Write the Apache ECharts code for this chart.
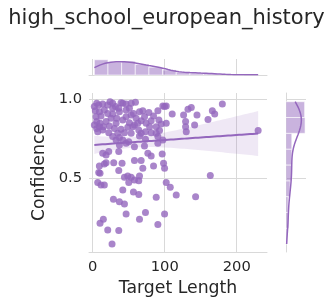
<!DOCTYPE html>
<html><head><meta charset="utf-8">
<script src="https://cdn.jsdelivr.net/npm/echarts@6/dist/echarts.min.js"></script>
<style>html,body{margin:0;padding:0;background:#fff}#c{width:333px;height:305px}</style>
</head><body><div id="c"></div>
<script>
const chartTitle = 'high_school_european_history';
const xName = 'Target Length';
const yName = 'Confidence';
const xTicks = [0, 100, 200];
const yTicks = [0.5, 1.0];

const targetLength = [
  5.6, 13.9, 24.1, 39.4, 41.8, 59.4, 31.6, 36.2, 51.0, 3.7,
  9.3, 16.2, 20.9, 27.8, 37.1, 46.4, 56.6, 65.0, 69.6, 78.0,
  90.5, 97.4, 102.1, 99.8, 110.4, 126.2, 132.3, 136.9, 144.8, 160.1,
  166.1, 169.4, 180.0, 229.7, 5.6, 10.2, 18.6, 25.5, 32.5, 41.8,
  51.0, 58.0, 67.3, 74.2, 81.2, 88.2, 102.1, 129.0, 141.5, 7.0,
  13.9, 22.3, 30.2, 39.4, 48.7, 55.7, 64.0, 73.3, 81.2, 92.8,
  129.0, 129.9, 32.5, 41.8, 50.1, 37.1, 46.4, 65.0, 73.3, 90.5,
  97.4, 90.5, 36.2, 58.0, 71.9, 13.9, 18.6, 22.3, 76.6, 81.2,
  96.5, 9.3, 16.2, 18.6, 29.2, 40.8, 36.2, 58.0, 67.3, 69.6,
  84.5, 98.4, 99.8, 8.4, 10.2, 44.1, 48.7, 53.4, 58.0, 65.0,
  64.0, 50.1, 163.3, 7.0, 11.6, 16.2, 41.8, 56.6, 64.0, 88.2,
  102.1, 107.7, 116.0, 142.9, 28.8, 37.1, 44.1, 46.4, 73.3, 65.0,
  90.5, 99.8, 14.8, 10.2, 20.9, 36.2, 26.9,
  2.3, 8.4, 11.6, 4.6, 14.8, 23.2, 27.8, 33.4, 46.4, 53.4,
  60.3, 62.6, 72.0, 79.0, 84.5, 91.9, 95.1, 20.9, 27.8, 46.4,
  53.4, 9.3, 2.3, 34.8, 44.1, 53.4, 37.1, 27.8, 67.3, 88.2,
  5.6
];
const confidence = [
  0.975, 0.970, 0.985, 0.979, 0.975, 0.981, 0.954, 0.943, 0.943, 0.928,
  0.922, 0.932, 0.911, 0.907, 0.922, 0.932, 0.911, 0.922, 0.928, 0.916,
  0.928, 0.958, 0.958, 0.954, 0.907, 0.901, 0.937, 0.949, 0.901, 0.873,
  0.928, 0.907, 0.970, 0.802, 0.859, 0.848, 0.859, 0.880, 0.848, 0.869,
  0.852, 0.838, 0.865, 0.848, 0.865, 0.827, 0.848, 0.859, 0.838, 0.795,
  0.806, 0.789, 0.816, 0.810, 0.823, 0.827, 0.806, 0.795, 0.789, 0.802,
  0.827, 0.795, 0.743, 0.743, 0.732, 0.711, 0.722, 0.768, 0.747, 0.764,
  0.743, 0.722, 0.669, 0.700, 0.705, 0.658, 0.648, 0.669, 0.658, 0.641,
  0.654, 0.578, 0.591, 0.599, 0.599, 0.595, 0.549, 0.612, 0.612, 0.563,
  0.578, 0.595, 0.563, 0.536, 0.532, 0.506, 0.515, 0.506, 0.489, 0.515,
  0.485, 0.473, 0.517, 0.473, 0.458, 0.458, 0.426, 0.414, 0.397, 0.380,
  0.473, 0.443, 0.395, 0.384, 0.367, 0.352, 0.338, 0.274, 0.283, 0.241,
  0.207, 0.274, 0.241, 0.215, 0.173, 0.169, 0.084,
  0.954, 0.964, 0.895, 0.890, 0.827, 0.831, 0.943, 0.880, 0.890, 0.901,
  0.880, 0.848, 0.890, 0.827, 0.895, 0.869, 0.844, 0.964, 0.975, 0.970,
  0.975, 0.827, 0.838, 0.785, 0.789, 0.785, 0.759, 0.764, 0.785, 0.785,
  0.816
];

const PURPLE = '#9467bd';
const TEXT = '#262626';
const GRID = '#d9d9d9';
const FONT = 'DejaVu Sans';

const n = Math.min(targetLength.length, confidence.length);
const xs = targetLength.slice(0, n), ys = confidence.slice(0, n);
const points = xs.map((x, i) => [x, ys[i]]);

function mean(a) { return a.reduce((s, v) => s + v, 0) / a.length; }
function hist(vals, nb) {
  const lo = Math.min(...vals), hi = Math.max(...vals), w = (hi - lo) / nb;
  const counts = new Array(nb).fill(0);
  vals.forEach(v => { let i = Math.floor((v - lo) / w); if (i >= nb) i = nb - 1; counts[i]++; });
  return counts.map((c, i) => [lo + i * w, lo + (i + 1) * w, c]);
}
function kde(vals, lo, hi, scale, m) {
  const mu = mean(vals);
  const sd = Math.sqrt(vals.reduce((s, v) => s + (v - mu) * (v - mu), 0) / (vals.length - 1));
  const h = sd * Math.pow(vals.length, -0.2);
  const out = [];
  for (let k = 0; k <= m; k++) {
    const x = lo + (hi - lo) * k / m;
    let d = 0;
    vals.forEach(v => { const z = (x - v) / h; d += Math.exp(-0.5 * z * z); });
    d /= vals.length * h * Math.sqrt(2 * Math.PI);
    out.push([x, d * scale]);
  }
  return out;
}

// regression + CI
const xb = mean(xs), yb = mean(ys);
let sxx = 0, sxy = 0;
xs.forEach((x, i) => { sxx += (x - xb) ** 2; sxy += (x - xb) * (ys[i] - yb); });
const slope = sxy / sxx, icpt = yb - slope * xb;
let sse = 0; xs.forEach((x, i) => { sse += (ys[i] - icpt - slope * x) ** 2; });
const s = Math.sqrt(sse / (n - 2)), tval = 1.975;
const xmin = Math.min(...xs), xmax = Math.max(...xs);
const regLine = [], bandUp = [], bandLo = [];
for (let k = 0; k <= 60; k++) {
  const x = xmin + (xmax - xmin) * k / 60;
  const yh = icpt + slope * x;
  const se = s * Math.sqrt(1 / n + (x - xb) ** 2 / sxx);
  regLine.push([x, yh]); bandUp.push([x, yh + tval * se]); bandLo.push([x, yh - tval * se]);
}

const xHist = hist(xs, 12), yHist = hist(ys, 9);
const xw = xHist[0][1] - xHist[0][0], yw = yHist[0][1] - yHist[0][0];
const xKde = kde(xs, xmin, xmax, n * xw, 120);
const yKde = kde(ys, Math.min(...ys), Math.max(...ys), n * yw, 120).map(p => [p[1], p[0]]);
const topMax = Math.max(...xHist.map(b => b[2]), ...xKde.map(p => p[1])) * 1.05;
const rightMax = Math.max(...yHist.map(b => b[2]), ...yKde.map(p => p[0])) * 1.05;

const X_MIN = -5.1, X_MAX = 242, Y_MIN = 0.0335, Y_MAX = 1.04;

const chart = echarts.init(document.getElementById('c'), null, { renderer: 'canvas' });
chart.setOption({
  animation: false,
  backgroundColor: '#fff',
  textStyle: { fontFamily: FONT },
  title: { text: chartTitle, left: 'center', top: 3, textStyle: { fontFamily: FONT, fontSize: 21, fontWeight: 'normal', color: TEXT } },
  grid: [
    { left: 89, top: 93, width: 178, height: 159 },
    { left: 89, top: 59, width: 178, height: 16 },
    { left: 286, top: 93, width: 20, height: 159 }
  ],
  xAxis: [
    { gridIndex: 0, type: 'value', min: X_MIN, max: X_MAX,
      name: xName, nameLocation: 'middle', nameGap: 27,
      nameTextStyle: { fontFamily: FONT, fontSize: 17.3, color: TEXT },
      axisLine: { show: true, lineStyle: { color: GRID, width: 1 } },
      axisTick: { show: false, customValues: xTicks },
      axisLabel: { customValues: xTicks, fontFamily: FONT, fontSize: 14.7, color: TEXT, margin: 8 },
      splitLine: { show: true, lineStyle: { color: GRID, width: 1 } } },
    { gridIndex: 1, type: 'value', min: X_MIN, max: X_MAX,
      axisLine: { show: true, lineStyle: { color: GRID, width: 1 } },
      axisTick: { show: false, customValues: xTicks },
      axisLabel: { show: false, customValues: xTicks },
      splitLine: { show: true, lineStyle: { color: GRID, width: 1 } } },
    { gridIndex: 2, type: 'value', min: 0, max: rightMax, show: false, splitLine: { show: false } }
  ],
  yAxis: [
    { gridIndex: 0, type: 'value', min: Y_MIN, max: Y_MAX,
      name: yName, nameLocation: 'middle', nameGap: 35, nameRotate: 90,
      nameTextStyle: { fontFamily: FONT, fontSize: 17.3, color: TEXT },
      axisLine: { show: false },
      axisTick: { show: false, customValues: yTicks },
      axisLabel: { customValues: yTicks, formatter: v => Number(v).toFixed(1), fontFamily: FONT, fontSize: 14.7, color: TEXT, margin: 7 },
      splitLine: { show: true, lineStyle: { color: GRID, width: 1 } } },
    { gridIndex: 1, type: 'value', min: 0, max: topMax, show: false, splitLine: { show: false } },
    { gridIndex: 2, type: 'value', min: Y_MIN, max: Y_MAX,
      axisLine: { show: true, lineStyle: { color: GRID, width: 1 } },
      axisTick: { show: false, customValues: yTicks },
      axisLabel: { show: false, customValues: yTicks },
      splitLine: { show: true, lineStyle: { color: GRID, width: 1 } } }
  ],
  series: [
    { type: 'custom', xAxisIndex: 0, yAxisIndex: 0, silent: true, z: 1,
      data: [[xmin, icpt]],
      renderItem: (params, api) => {
        const pts = bandUp.map(p => api.coord(p)).concat(bandLo.slice().reverse().map(p => api.coord(p)));
        return { type: 'polygon', shape: { points: pts }, style: { fill: 'rgba(148,103,189,0.15)' } };
      } },
    { type: 'scatter', xAxisIndex: 0, yAxisIndex: 0, data: points, symbolSize: 7, z: 2,
      itemStyle: { color: PURPLE, opacity: 0.8 } },
    { type: 'line', xAxisIndex: 0, yAxisIndex: 0, data: regLine, showSymbol: false, z: 3,
      lineStyle: { color: PURPLE, width: 2 } },
    { type: 'custom', xAxisIndex: 1, yAxisIndex: 1, silent: true, z: 2,
      data: xHist, encode: { x: [0, 1], y: 2 },
      renderItem: (params, api) => {
        const p0 = api.coord([api.value(0), 0]), p1 = api.coord([api.value(1), api.value(2)]);
        return { type: 'rect', shape: { x: p0[0], y: p1[1], width: p1[0] - p0[0], height: p0[1] - p1[1] },
          style: { fill: 'rgba(148,103,189,0.5)', stroke: '#fff', lineWidth: 0.6 } };
      } },
    { type: 'line', xAxisIndex: 1, yAxisIndex: 1, data: xKde, showSymbol: false, z: 3,
      lineStyle: { color: PURPLE, width: 1.5 } },
    { type: 'custom', xAxisIndex: 2, yAxisIndex: 2, silent: true, z: 2,
      data: yHist, encode: { y: [0, 1], x: 2 },
      renderItem: (params, api) => {
        const p0 = api.coord([0, api.value(0)]), p1 = api.coord([api.value(2), api.value(1)]);
        return { type: 'rect', shape: { x: p0[0], y: p1[1], width: p1[0] - p0[0], height: p0[1] - p1[1] },
          style: { fill: 'rgba(148,103,189,0.5)', stroke: '#fff', lineWidth: 0.6 } };
      } },
    { type: 'line', xAxisIndex: 2, yAxisIndex: 2, data: yKde, showSymbol: false, z: 3,
      lineStyle: { color: PURPLE, width: 1.5 } }
  ]
});
</script>
</body></html>
